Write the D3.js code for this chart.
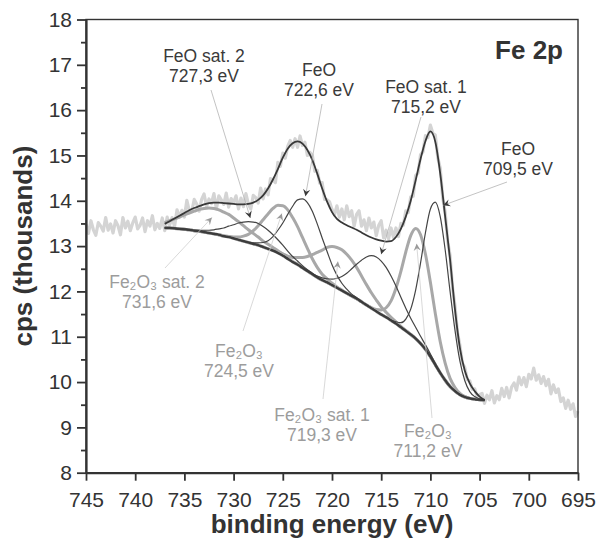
<!DOCTYPE html>
<html>
<head>
<meta charset="utf-8">
<script src="https://cdn.jsdelivr.net/npm/d3@7"></script>
<style>
  body { margin: 0; background: #fff; }
  svg { display: block; font-family: "Liberation Sans", Arial, Helvetica, sans-serif; }
</style>
</head>
<body>
<svg id="xps_svg" width="598" height="547"></svg>
<script>
// raw spectrum, 745 eV down to 695 eV, one point every 0.25 eV (thousands of cps)
const rawStart = 745, rawStep = 0.25;
const rawCounts = [
  13.48, 13.28, 13.56, 13.36, 13.24, 13.52, 13.44, 13.33, 13.63, 13.35,
  13.49, 13.29, 13.56, 13.45, 13.25, 13.63, 13.40, 13.55, 13.34, 13.51,
  13.64, 13.38, 13.46, 13.62, 13.32, 13.56, 13.44, 13.67, 13.36, 13.50,
  13.39, 13.62, 13.34,
  13.64, 13.46, 13.63, 13.43, 13.80, 13.64, 13.79, 13.64, 14.01, 13.78,
  13.76, 14.03, 13.93, 13.77, 14.03, 14.15, 13.87, 14.04, 13.94, 14.16,
  13.82, 14.11, 14.02, 13.92, 14.17, 13.86, 14.05, 13.96, 14.11, 13.82,
  14.06, 13.87, 14.16, 13.93, 13.82, 14.12, 14.07, 13.95, 14.28, 14.04,
  14.26, 14.13, 14.49, 14.46, 14.40, 14.85, 14.76, 15.05, 14.94, 15.20,
  15.33, 15.18, 15.37, 15.18, 15.43, 15.22, 15.29, 15.00, 15.07, 15.01,
  14.65, 14.67, 14.39, 14.40, 14.03, 14.02, 13.98, 13.81, 13.69, 13.89,
  13.64, 13.82, 13.58, 13.89, 13.65, 13.78, 13.44, 13.70, 13.78, 13.44,
  13.58, 13.34, 13.62, 13.40, 13.53, 13.23, 13.46, 13.56, 13.18, 13.35,
  13.16, 13.40, 13.19, 13.40, 13.21, 13.50, 13.46, 13.78, 13.74, 14.09,
  14.10, 14.56, 14.61, 15.02, 15.08, 15.44, 15.39, 15.67, 15.49, 15.45,
  14.95, 14.72, 14.07, 13.75, 13.12, 12.79, 12.08, 11.68, 11.10, 10.81,
  10.42, 10.32, 10.05, 10.03, 9.84, 9.85, 9.68, 9.72,
  9.75, 9.53, 9.71, 9.61, 9.81, 9.54, 9.70, 9.61, 9.86, 9.68,
  9.88, 9.65, 9.89, 9.98, 9.82, 10.11, 9.94, 10.10, 9.90, 10.17,
  10.07, 10.31, 10.04, 10.16, 9.97, 10.12, 9.92, 10.06, 9.74, 9.94,
  9.77, 9.85, 9.57, 9.65, 9.42, 9.60, 9.40, 9.52, 9.24, 9.36
];

// fit curves, 737 eV down to 704.5 eV, one point every 0.5 eV
const fitStart = 737, fitStep = 0.5;
const background = [
  13.40, 13.40, 13.39, 13.38, 13.37, 13.36, 13.34, 13.33, 13.31, 13.29,
  13.27, 13.25, 13.22, 13.20, 13.17, 13.14, 13.11, 13.08, 13.05, 13.02,
  12.98, 12.94, 12.90, 12.85, 12.79, 12.72, 12.65, 12.59, 12.52, 12.45,
  12.38, 12.31, 12.25, 12.20, 12.14, 12.08, 12.02, 11.96, 11.90, 11.84,
  11.77, 11.70, 11.63, 11.56, 11.49, 11.43, 11.36, 11.29, 11.21, 11.13,
  11.05, 10.96, 10.85, 10.72, 10.56, 10.38, 10.20, 10.04, 9.90, 9.80,
  9.72, 9.67, 9.64, 9.62, 9.61, 9.60
];
const envelope = [
  13.49, 13.55, 13.61, 13.67, 13.73, 13.79, 13.84, 13.88, 13.92, 13.95,
  13.96, 13.96, 13.95, 13.94, 13.93, 13.92, 13.92, 13.93, 13.96, 14.02,
  14.12, 14.27, 14.47, 14.70, 14.95, 15.15, 15.27, 15.31, 15.26, 15.12,
  14.90, 14.60, 14.27, 13.98, 13.75, 13.60, 13.52, 13.46, 13.41, 13.36,
  13.30, 13.24, 13.19, 13.15, 13.12, 13.10, 13.11, 13.20, 13.38, 13.65,
  14.00, 14.45, 14.92, 15.32, 15.53, 15.30, 14.60, 13.65, 12.70, 11.60,
  10.75, 10.25, 9.97, 9.80, 9.68, 9.60
];

// component heights above the background
const feo709 = [
  0, 0, 0, 0, 0, 0, 0, 0, 0, 0,
  0, 0, 0, 0, 0, 0, 0, 0, 0, 0,
  0, 0, 0, 0, 0, 0, 0, 0, 0, 0,
  0, 0, 0, 0, 0, 0, 0, 0, 0, 0,
  0, 0, 0, 0, 0, 0, 0.01, 0.04, 0.10, 0.26,
  0.56, 1.07, 1.78, 2.58, 3.26, 3.59, 3.45, 2.88, 2.10, 1.34,
  0.74, 0.36, 0.15, 0.06, 0.02, 0
];
const feoSat1 = [
  0, 0, 0, 0, 0, 0, 0, 0, 0, 0,
  0, 0, 0, 0, 0, 0, 0, 0, 0, 0,
  0, 0, 0, 0, 0, 0, 0, 0, 0, 0,
  0.01, 0.03, 0.05, 0.08, 0.13, 0.21, 0.31, 0.44, 0.60, 0.76,
  0.92, 1.06, 1.16, 1.20, 1.18, 1.10, 0.98, 0.83, 0.66, 0.50,
  0.36, 0.25, 0.16, 0.10, 0.06, 0.03, 0.02, 0.01, 0, 0,
  0, 0, 0, 0, 0, 0
];
const feo722 = [
  0, 0, 0, 0, 0, 0, 0, 0, 0, 0,
  0, 0, 0, 0, 0, 0, 0, 0.01, 0.02, 0.05,
  0.10, 0.18, 0.31, 0.50, 0.72, 0.98, 1.23, 1.43, 1.52, 1.51,
  1.39, 1.18, 0.93, 0.68, 0.45, 0.28, 0.16, 0.09, 0.04, 0.02,
  0.01, 0, 0, 0, 0, 0, 0, 0, 0, 0,
  0, 0, 0, 0, 0, 0, 0, 0, 0, 0,
  0, 0, 0, 0, 0, 0
];
const feoSat2 = [
  0, 0, 0, 0, 0, 0, 0.01, 0.02, 0.04, 0.06,
  0.09, 0.13, 0.18, 0.24, 0.30, 0.37, 0.42, 0.46, 0.48, 0.48,
  0.45, 0.41, 0.35, 0.29, 0.23, 0.17, 0.12, 0.08, 0.05, 0.03,
  0.02, 0.01, 0, 0, 0, 0, 0, 0, 0, 0,
  0, 0, 0, 0, 0, 0, 0, 0, 0, 0,
  0, 0, 0, 0, 0, 0, 0, 0, 0, 0,
  0, 0, 0, 0, 0, 0
];
const fe2o3_711 = [
  0, 0, 0, 0, 0, 0, 0, 0, 0, 0,
  0, 0, 0, 0, 0, 0, 0, 0, 0, 0,
  0, 0, 0, 0, 0, 0, 0, 0, 0, 0,
  0, 0, 0, 0, 0, 0, 0, 0, 0, 0,
  0, 0, 0.01, 0.04, 0.10, 0.21, 0.43, 0.78, 1.23, 1.74,
  2.18, 2.43, 2.40, 2.10, 1.64, 1.13, 0.69, 0.38, 0.18, 0.08,
  0.03, 0.01, 0, 0, 0, 0
];
const fe2o3Sat1 = [
  0, 0, 0, 0, 0, 0, 0, 0, 0, 0,
  0, 0, 0, 0, 0, 0, 0, 0, 0, 0,
  0, 0, 0.01, 0.02, 0.04, 0.06, 0.10, 0.16, 0.23, 0.32,
  0.43, 0.55, 0.66, 0.77, 0.85, 0.89, 0.90, 0.86, 0.79, 0.69,
  0.57, 0.45, 0.34, 0.25, 0.17, 0.11, 0.07, 0.04, 0.02, 0.01,
  0, 0, 0, 0, 0, 0, 0, 0, 0, 0,
  0, 0, 0, 0, 0, 0
];
const fe2o3_724 = [
  0, 0, 0, 0, 0, 0, 0, 0, 0, 0,
  0, 0, 0.01, 0.01, 0.03, 0.06, 0.11, 0.18, 0.29, 0.43,
  0.60, 0.77, 0.93, 1.05, 1.10, 1.08, 0.98, 0.84, 0.67, 0.50,
  0.34, 0.22, 0.13, 0.08, 0.04, 0.02, 0.01, 0, 0, 0,
  0, 0, 0, 0, 0, 0, 0, 0, 0, 0,
  0, 0, 0, 0, 0, 0, 0, 0, 0, 0,
  0, 0, 0, 0, 0, 0
];
const fe2o3Sat2 = [
  0.12, 0.16, 0.21, 0.26, 0.32, 0.37, 0.43, 0.48, 0.52, 0.55,
  0.56, 0.55, 0.53, 0.50, 0.45, 0.40, 0.34, 0.28, 0.23, 0.18,
  0.13, 0.10, 0.07, 0.05, 0.03, 0.02, 0.01, 0.01, 0, 0,
  0, 0, 0, 0, 0, 0, 0, 0, 0, 0,
  0, 0, 0, 0, 0, 0, 0, 0, 0, 0,
  0, 0, 0, 0, 0, 0, 0, 0, 0, 0,
  0, 0, 0, 0, 0, 0
];

// peak labels and where their arrows point (eV, thousands of cps)
const peakNames = ["FeO sat. 2", "FeO", "FeO sat. 1", "FeO", "Fe₂O₃ sat. 2", "Fe₂O₃", "Fe₂O₃ sat. 1", "Fe₂O₃"];
const peakPositions = ["727,3 eV", "722,6 eV", "715,2 eV", "709,5 eV", "731,6 eV", "724,5 eV", "719,3 eV", "711,2 eV"];
const peakArrowTips = [[728.3, 13.62], [722.7, 14.1], [715.0, 12.82], [708.7, 13.9],
                       [732.2, 13.63], [725.1, 13.72], [719.4, 12.66], [711.4, 13.05]];

const xTicks = [745, 740, 735, 730, 725, 720, 715, 710, 705, 700, 695];
const yTicks = [8, 9, 10, 11, 12, 13, 14, 15, 16, 17, 18];
const yMinorTicks = [8.5, 9.5, 10.5, 11.5, 12.5, 13.5, 14.5, 15.5, 16.5, 17.5];

function createXpsChart(){
    const svg = d3.select('#xps_svg');
    const width = +svg.attr('width');
    const height = +svg.attr('height');
    const margin = { top: 19.5, bottom: 74.3, right: 20, left: 86 };
    const innerWidth = width - margin.left - margin.right;
    const innerHeight = height - margin.top - margin.bottom;

    const darkInk = '#3a3a3a';
    const greyInk = '#9c9c9c';

    // binding energy runs right to left
    const xScale = d3.scaleLinear()
            .domain([745, 695])
            .range([0, innerWidth]);
    const yScale = d3.scaleLinear()
            .domain([8, 18])
            .range([innerHeight, 0]);

    const g = svg.append('g')
            .attr('transform', `translate(${margin.left},${margin.top})`);

    // arrow heads
    const defs = svg.append('defs');
    [['arrowDark', '#3a3a3a'], ['arrowGrey', '#9a9a9a']].forEach(([id, col]) => {
        defs.append('marker')
            .attr('id', id)
            .attr('viewBox', '-8 -5 9 10')
            .attr('refX', 0).attr('refY', 0)
            .attr('markerWidth', 9).attr('markerHeight', 10)
            .attr('markerUnits', 'userSpaceOnUse')
            .attr('orient', 'auto')
          .append('path')
            .attr('d', 'M0,0 L-7,-3.6 L-4.5,0 L-7,3.6 Z')
            .attr('fill', col);
    });

    const line = d3.line()
            .x(d => xScale(d[0]))
            .y(d => yScale(d[1]));

    // raw data
    const rawData = rawCounts.map((v, i) => [rawStart - i * rawStep, v]);
    g.append('path')
        .datum(rawData)
        .attr('d', line)
        .attr('fill', 'none')
        .attr('stroke', '#d4d4d4')
        .attr('stroke-width', 3.2)
        .attr('stroke-linejoin', 'round');

    const fitEnergy = background.map((d, i) => fitStart - i * fitStep);
    const smooth = d3.line()
            .x(d => xScale(d[0]))
            .y(d => yScale(d[1]))
            .curve(d3.curveMonotoneX);

    // Fe2O3 components (grey, thick) under the FeO ones (dark, thin)
    const components = [
        { values: fe2o3Sat2, kind: 'Fe2O3' },
        { values: fe2o3_724, kind: 'Fe2O3' },
        { values: fe2o3Sat1, kind: 'Fe2O3' },
        { values: fe2o3_711, kind: 'Fe2O3' },
        { values: feoSat2, kind: 'FeO' },
        { values: feo722, kind: 'FeO' },
        { values: feoSat1, kind: 'FeO' },
        { values: feo709, kind: 'FeO' }
    ];
    components.forEach(c => {
        g.append('path')
            .datum(fitEnergy.map((e, i) => [e, background[i] + c.values[i]]))
            .attr('d', smooth)
            .attr('fill', 'none')
            .attr('stroke', c.kind === 'FeO' ? '#444' : '#a8a8a8')
            .attr('stroke-width', c.kind === 'FeO' ? 1.2 : 3);
    });

    // background and envelope
    g.append('path')
        .datum(fitEnergy.map((e, i) => [e, background[i]]))
        .attr('d', smooth)
        .attr('fill', 'none')
        .attr('stroke', '#3c3c3c')
        .attr('stroke-width', 2.2);
    g.append('path')
        .datum(fitEnergy.map((e, i) => [e, envelope[i]]))
        .attr('d', smooth)
        .attr('fill', 'none')
        .attr('stroke', '#383838')
        .attr('stroke-width', 1.8);

    // label placement in pixels (baseline of first line), leader start
    const labelLayout = [
        { x: 204, y: 62, lead: [211, 90] },
        { x: 319, y: 76, lead: [322, 104] },
        { x: 426, y: 93, lead: [421, 117] },
        { x: 518, y: 155, lead: [507, 182] },
        { x: 157, y: 288, lead: [165, 268] },
        { x: 239, y: 357, lead: [243, 331] },
        { x: 322, y: 421, lead: [323, 399] },
        { x: 428, y: 437, lead: [432, 418] }
    ];

    peakNames.forEach((name, i) => {
        const lay = labelLayout[i];
        const isFeO = !name.startsWith('Fe₂O₃');
        const col = isFeO ? darkInk : greyInk;

        // leader line
        svg.append('line')
            .attr('x1', lay.lead[0]).attr('y1', lay.lead[1])
            .attr('x2', margin.left + xScale(peakArrowTips[i][0]))
            .attr('y2', margin.top + yScale(peakArrowTips[i][1]))
            .attr('stroke', isFeO ? '#b4b4b4' : '#cfcfcf')
            .attr('stroke-width', 0.8)
            .attr('marker-end', isFeO ? 'url(#arrowDark)' : 'url(#arrowGrey)');

        svg.append('text')
            .attr('x', lay.x).attr('y', lay.y)
            .attr('text-anchor', 'middle')
            .style('font-size', '17.5px')
            .style('fill', col)
            .text(name);
        svg.append('text')
            .attr('x', lay.x).attr('y', lay.y + 20)
            .attr('text-anchor', 'middle')
            .style('font-size', '17.5px')
            .style('fill', col)
            .text(peakPositions[i]);
    });

    // frame
    g.append('rect')
        .attr('width', innerWidth)
        .attr('height', innerHeight)
        .attr('fill', 'none')
        .attr('stroke', '#333')
        .attr('stroke-width', 1.4);

    // axes
    const xAxis = d3.axisBottom(xScale)
            .tickValues(xTicks)
            .tickSize(8)
            .tickSizeOuter(0)
            .tickPadding(11)
            .tickFormat(d3.format('d'));
    const xg = g.append('g')
            .attr('transform', `translate(0,${innerHeight})`)
            .call(xAxis);

    const yAxis = d3.axisLeft(yScale)
            .tickValues(yTicks)
            .tickSize(9)
            .tickSizeOuter(0)
            .tickPadding(5)
            .tickFormat(d3.format('d'));
    const yg = g.append('g').call(yAxis);

    const yMinor = d3.axisLeft(yScale)
            .tickValues(yMinorTicks)
            .tickSize(5)
            .tickSizeOuter(0)
            .tickFormat('');
    const ymg = g.append('g').call(yMinor);
    ymg.select('.domain').remove();

    [xg, yg, ymg].forEach(ax => {
        ax.select('.domain').attr('stroke', '#333').attr('stroke-width', 2.2);
        ax.selectAll('.tick line').attr('stroke', '#333').attr('stroke-width', 1.8);
        ax.selectAll('.tick text')
            .style('font-size', '21px')
            .style('font-family', '"Liberation Sans", Arial, sans-serif')
            .style('fill', '#333');
    });

    // axis titles
    svg.append('text')
        .attr('x', margin.left + innerWidth / 2)
        .attr('y', 533)
        .attr('text-anchor', 'middle')
        .style('font-size', '26px')
        .style('font-weight', 'bold')
        .style('fill', '#333')
        .text('binding energy (eV)');
    svg.append('text')
        .attr('transform', `translate(31.5,${margin.top + innerHeight / 2}) rotate(-90)`)
        .attr('text-anchor', 'middle')
        .style('font-size', '26px')
        .style('font-weight', 'bold')
        .style('fill', '#333')
        .text('cps (thousands)');

    // panel title
    svg.append('text')
        .attr('x', 563)
        .attr('y', 59)
        .attr('text-anchor', 'end')
        .style('font-size', '26px')
        .style('font-weight', 'bold')
        .style('fill', '#333')
        .text('Fe 2p');
}

createXpsChart();
</script>
</body>
</html>
